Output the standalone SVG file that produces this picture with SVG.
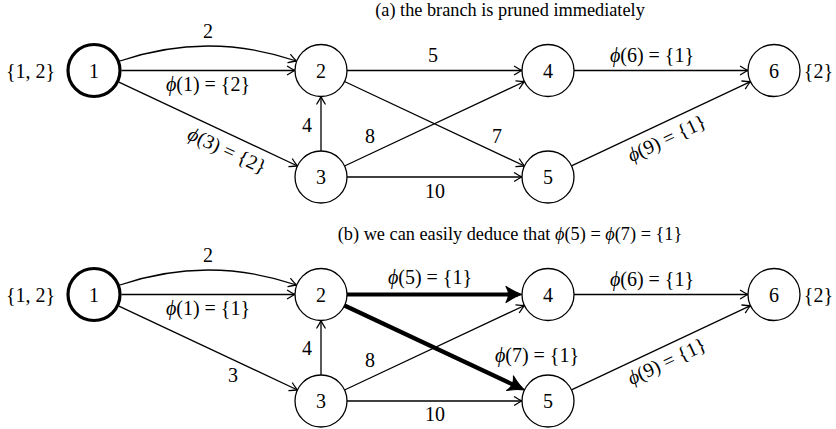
<svg xmlns="http://www.w3.org/2000/svg" width="836" height="429" viewBox="0 0 836 429">
<defs>
<style>
text{font-family:"Liberation Serif","Times New Roman",serif;font-size:20px;fill:#000}
.title{font-size:18.3px}
.c{text-anchor:middle}
.r{text-anchor:end}
.it{font-style:italic}
.node circle{fill:#fff;stroke:#000;stroke-width:1.3}
.node.start circle{stroke-width:3.2}
.e{fill:none;stroke:#000;stroke-width:1.3;marker-end:url(#ah)}
.t{fill:none;stroke:#000;stroke-width:4.2;marker-end:url(#ahT)}
</style>
<marker id="ah" markerUnits="userSpaceOnUse" markerWidth="20" markerHeight="20" refX="0" refY="0" orient="auto" overflow="visible" viewBox="-10 -10 20 20">
<path d="M-7.5,-4.2 Q-2.2,-0.9 0,0 Q-2.2,0.9 -7.5,4.2" fill="none" stroke="#000" stroke-width="1.3" stroke-linecap="round"/>
</marker>
<marker id="ahT" markerUnits="userSpaceOnUse" markerWidth="40" markerHeight="40" refX="0" refY="0" orient="auto" overflow="visible" viewBox="-20 -20 40 40">
<path d="M4,0 Q-3,-2 -12,-8 Q-7,0 -12,8 Q-3,2 4,0 Z" fill="#000" stroke="#000" stroke-width="1.2" stroke-linejoin="round"/>
</marker>
</defs>

<text class="c title" x="510" y="16">(a) the branch is pruned immediately</text>
<text class="c title" x="510" y="240">(b) we can easily deduce that <tspan class="it">ϕ</tspan>(5) = <tspan class="it">ϕ</tspan>(7) = {1}</text>

<g id="connectors-a">
<path class="e" d="M120,61 Q208,31 296.5,61"/>
<path class="e" d="M121.5,70.5 L295,70.5"/>
<path class="e" d="M118.9,82.2 L297.5,166"/>
<path class="e" d="M321,151 L321,96.5"/>
<path class="e" d="M347,70.5 L522,70.5"/>
<path class="e" d="M344.5,81.5 L524.5,166"/>
<path class="e" d="M344.5,166 L524.5,81.5"/>
<path class="e" d="M347,177 L522,177"/>
<path class="e" d="M574,70.5 L748,70.5"/>
<path class="e" d="M571.5,165.9 L750.5,81.6"/>
<text class="c" x="208" y="38">2</text>
<text class="c" x="208" y="91"><tspan class="it">ϕ</tspan>(1) = {2}</text>
<text class="c" transform="translate(227,151) rotate(25.1)" x="0" y="6"><tspan class="it">ϕ</tspan>(3) = {2}</text>
<text class="c" x="307" y="132">4</text>
<text class="c" x="433" y="62">5</text>
<text class="c" x="370" y="143">8</text>
<text class="c" x="497" y="143">7</text>
<text class="c" x="435" y="198">10</text>
<text class="c" x="652" y="62"><tspan class="it">ϕ</tspan>(6) = {1}</text>
<text class="c" transform="translate(667,139) rotate(-25.2)" x="0" y="6"><tspan class="it">ϕ</tspan>(9) = {1}</text>
</g>

<g id="connectors-b">
<path class="e" d="M120,285 Q208,255 296.5,285"/>
<path class="e" d="M121.5,294.5 L295,294.5"/>
<path class="e" d="M118.9,306.2 L297.5,390"/>
<path class="e" d="M321,375 L321,320.5"/>
<path class="t" d="M347,294.5 L518,294.5"/>
<path class="t" d="M344.5,305.5 L520.9,388.3"/>
<path class="e" d="M344.5,390 L524.5,305.5"/>
<path class="e" d="M347,401 L522,401"/>
<path class="e" d="M574,294.5 L748,294.5"/>
<path class="e" d="M571.5,389.9 L750.5,305.6"/>
<text class="c" x="208" y="262">2</text>
<text class="c" x="208" y="315"><tspan class="it">ϕ</tspan>(1) = {1}</text>
<text class="c" x="233" y="382">3</text>
<text class="c" x="307" y="355">4</text>
<text class="c" x="370" y="367">8</text>
<text class="c" x="430" y="284"><tspan class="it">ϕ</tspan>(5) = {1}</text>
<text class="c" x="537" y="362"><tspan class="it">ϕ</tspan>(7) = {1}</text>
<text class="c" x="435" y="421">10</text>
<text class="c" x="652" y="286"><tspan class="it">ϕ</tspan>(6) = {1}</text>
<text class="c" transform="translate(667,362) rotate(-25.2)" x="0" y="6"><tspan class="it">ϕ</tspan>(9) = {1}</text>
</g>

<g id="a-n1" class="node start"><circle cx="94" cy="70.5" r="26"/><text class="c" x="94" y="77.5">1</text></g>
<g id="a-n2" class="node"><circle cx="321" cy="70.5" r="26"/><text class="c" x="321" y="77.5">2</text></g>
<g id="a-n3" class="node"><circle cx="321" cy="177" r="26"/><text class="c" x="321" y="184">3</text></g>
<g id="a-n4" class="node"><circle cx="548" cy="70.5" r="26"/><text class="c" x="548" y="77.5">4</text></g>
<g id="a-n5" class="node"><circle cx="548" cy="177" r="26"/><text class="c" x="548" y="184">5</text></g>
<g id="a-n6" class="node"><circle cx="774" cy="70.5" r="26"/><text class="c" x="774" y="77.5">6</text></g>
<text class="c" x="30.5" y="77.5">{1, 2}</text>
<text class="r" x="833" y="77.5">{2}</text>

<g id="b-n1" class="node start"><circle cx="94" cy="294.5" r="26"/><text class="c" x="94" y="301.5">1</text></g>
<g id="b-n2" class="node"><circle cx="321" cy="294.5" r="26"/><text class="c" x="321" y="301.5">2</text></g>
<g id="b-n3" class="node"><circle cx="321" cy="401" r="26"/><text class="c" x="321" y="408">3</text></g>
<g id="b-n4" class="node"><circle cx="548" cy="294.5" r="26"/><text class="c" x="548" y="301.5">4</text></g>
<g id="b-n5" class="node"><circle cx="548" cy="401" r="26"/><text class="c" x="548" y="408">5</text></g>
<g id="b-n6" class="node"><circle cx="774" cy="294.5" r="26"/><text class="c" x="774" y="301.5">6</text></g>
<text class="c" x="30.5" y="301.5">{1, 2}</text>
<text class="r" x="833" y="301.5">{2}</text>
</svg>
